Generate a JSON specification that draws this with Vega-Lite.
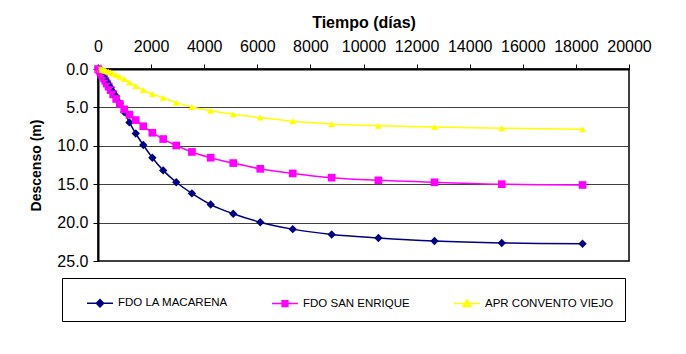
{
  "$schema": "https://vega.github.io/schema/vega-lite/v6.json",
  "autosize": {"type": "none"},
  "padding": {"left": 98, "top": 69, "right": 57, "bottom": 93},
  "width": 531,
  "height": 192,
  "background": "white",
  "datasets": {
    "pozos": [
      {"serie": "FDO LA MACARENA", "t": 1, "d": 0},
      {"serie": "FDO LA MACARENA", "t": 50, "d": 0.18},
      {"serie": "FDO LA MACARENA", "t": 92, "d": 0.35},
      {"serie": "FDO LA MACARENA", "t": 133, "d": 0.55},
      {"serie": "FDO LA MACARENA", "t": 159, "d": 0.7},
      {"serie": "FDO LA MACARENA", "t": 191, "d": 0.85},
      {"serie": "FDO LA MACARENA", "t": 230, "d": 1.05},
      {"serie": "FDO LA MACARENA", "t": 275, "d": 1.3},
      {"serie": "FDO LA MACARENA", "t": 331, "d": 1.6},
      {"serie": "FDO LA MACARENA", "t": 397, "d": 1.95},
      {"serie": "FDO LA MACARENA", "t": 476, "d": 2.4},
      {"serie": "FDO LA MACARENA", "t": 571, "d": 2.95},
      {"serie": "FDO LA MACARENA", "t": 685, "d": 3.55},
      {"serie": "FDO LA MACARENA", "t": 822, "d": 4.45},
      {"serie": "FDO LA MACARENA", "t": 987, "d": 5.6},
      {"serie": "FDO LA MACARENA", "t": 1184, "d": 6.95},
      {"serie": "FDO LA MACARENA", "t": 1421, "d": 8.4},
      {"serie": "FDO LA MACARENA", "t": 1706, "d": 9.9},
      {"serie": "FDO LA MACARENA", "t": 2047, "d": 11.55},
      {"serie": "FDO LA MACARENA", "t": 2456, "d": 13.2},
      {"serie": "FDO LA MACARENA", "t": 2948, "d": 14.75},
      {"serie": "FDO LA MACARENA", "t": 3537, "d": 16.2},
      {"serie": "FDO LA MACARENA", "t": 4244, "d": 17.65},
      {"serie": "FDO LA MACARENA", "t": 5093, "d": 18.85},
      {"serie": "FDO LA MACARENA", "t": 6112, "d": 19.95},
      {"serie": "FDO LA MACARENA", "t": 7334, "d": 20.85},
      {"serie": "FDO LA MACARENA", "t": 8801, "d": 21.55},
      {"serie": "FDO LA MACARENA", "t": 10561, "d": 22.0},
      {"serie": "FDO LA MACARENA", "t": 12674, "d": 22.4},
      {"serie": "FDO LA MACARENA", "t": 15208, "d": 22.65},
      {"serie": "FDO LA MACARENA", "t": 18250, "d": 22.75},
      {"serie": "FDO SAN ENRIQUE", "t": 1, "d": 0},
      {"serie": "FDO SAN ENRIQUE", "t": 50, "d": 0.2},
      {"serie": "FDO SAN ENRIQUE", "t": 92, "d": 0.4},
      {"serie": "FDO SAN ENRIQUE", "t": 133, "d": 0.65},
      {"serie": "FDO SAN ENRIQUE", "t": 159, "d": 0.8},
      {"serie": "FDO SAN ENRIQUE", "t": 191, "d": 1.0},
      {"serie": "FDO SAN ENRIQUE", "t": 230, "d": 1.25},
      {"serie": "FDO SAN ENRIQUE", "t": 275, "d": 1.55},
      {"serie": "FDO SAN ENRIQUE", "t": 331, "d": 1.9},
      {"serie": "FDO SAN ENRIQUE", "t": 397, "d": 2.3},
      {"serie": "FDO SAN ENRIQUE", "t": 476, "d": 2.75},
      {"serie": "FDO SAN ENRIQUE", "t": 571, "d": 3.3},
      {"serie": "FDO SAN ENRIQUE", "t": 685, "d": 3.9},
      {"serie": "FDO SAN ENRIQUE", "t": 822, "d": 4.55},
      {"serie": "FDO SAN ENRIQUE", "t": 987, "d": 5.25},
      {"serie": "FDO SAN ENRIQUE", "t": 1184, "d": 5.95},
      {"serie": "FDO SAN ENRIQUE", "t": 1421, "d": 6.65},
      {"serie": "FDO SAN ENRIQUE", "t": 1706, "d": 7.45},
      {"serie": "FDO SAN ENRIQUE", "t": 2047, "d": 8.3},
      {"serie": "FDO SAN ENRIQUE", "t": 2456, "d": 9.12},
      {"serie": "FDO SAN ENRIQUE", "t": 2948, "d": 9.96},
      {"serie": "FDO SAN ENRIQUE", "t": 3537, "d": 10.8},
      {"serie": "FDO SAN ENRIQUE", "t": 4244, "d": 11.55},
      {"serie": "FDO SAN ENRIQUE", "t": 5093, "d": 12.25},
      {"serie": "FDO SAN ENRIQUE", "t": 6112, "d": 13.0},
      {"serie": "FDO SAN ENRIQUE", "t": 7334, "d": 13.6},
      {"serie": "FDO SAN ENRIQUE", "t": 8801, "d": 14.15},
      {"serie": "FDO SAN ENRIQUE", "t": 10561, "d": 14.5},
      {"serie": "FDO SAN ENRIQUE", "t": 12674, "d": 14.75},
      {"serie": "FDO SAN ENRIQUE", "t": 15208, "d": 15.0},
      {"serie": "FDO SAN ENRIQUE", "t": 18250, "d": 15.1},
      {"serie": "APR CONVENTO VIEJO", "t": 1, "d": 0},
      {"serie": "APR CONVENTO VIEJO", "t": 50, "d": 0.02},
      {"serie": "APR CONVENTO VIEJO", "t": 92, "d": 0.04},
      {"serie": "APR CONVENTO VIEJO", "t": 133, "d": 0.07},
      {"serie": "APR CONVENTO VIEJO", "t": 159, "d": 0.09},
      {"serie": "APR CONVENTO VIEJO", "t": 191, "d": 0.12},
      {"serie": "APR CONVENTO VIEJO", "t": 230, "d": 0.16},
      {"serie": "APR CONVENTO VIEJO", "t": 275, "d": 0.21},
      {"serie": "APR CONVENTO VIEJO", "t": 331, "d": 0.28},
      {"serie": "APR CONVENTO VIEJO", "t": 397, "d": 0.36},
      {"serie": "APR CONVENTO VIEJO", "t": 476, "d": 0.47},
      {"serie": "APR CONVENTO VIEJO", "t": 571, "d": 0.6},
      {"serie": "APR CONVENTO VIEJO", "t": 685, "d": 0.78},
      {"serie": "APR CONVENTO VIEJO", "t": 822, "d": 1.0},
      {"serie": "APR CONVENTO VIEJO", "t": 987, "d": 1.3},
      {"serie": "APR CONVENTO VIEJO", "t": 1184, "d": 1.75},
      {"serie": "APR CONVENTO VIEJO", "t": 1421, "d": 2.2},
      {"serie": "APR CONVENTO VIEJO", "t": 1706, "d": 2.73},
      {"serie": "APR CONVENTO VIEJO", "t": 2047, "d": 3.25},
      {"serie": "APR CONVENTO VIEJO", "t": 2456, "d": 3.75},
      {"serie": "APR CONVENTO VIEJO", "t": 2948, "d": 4.38},
      {"serie": "APR CONVENTO VIEJO", "t": 3537, "d": 4.95},
      {"serie": "APR CONVENTO VIEJO", "t": 4244, "d": 5.43},
      {"serie": "APR CONVENTO VIEJO", "t": 5093, "d": 5.9},
      {"serie": "APR CONVENTO VIEJO", "t": 6112, "d": 6.33},
      {"serie": "APR CONVENTO VIEJO", "t": 7334, "d": 6.8},
      {"serie": "APR CONVENTO VIEJO", "t": 8801, "d": 7.15},
      {"serie": "APR CONVENTO VIEJO", "t": 10561, "d": 7.38},
      {"serie": "APR CONVENTO VIEJO", "t": 12674, "d": 7.55},
      {"serie": "APR CONVENTO VIEJO", "t": 15208, "d": 7.72},
      {"serie": "APR CONVENTO VIEJO", "t": 18250, "d": 7.85}
    ]
  },
  "data": {"name": "pozos"},
  "encoding": {
    "x": {
      "field": "t", "type": "quantitative",
      "scale": {"domain": [0, 20000], "nice": false, "zero": false},
      "axis": {
        "orient": "top", "title": "Tiempo (días)",
        "values": [0, 2000, 4000, 6000, 8000, 10000, 12000, 14000, 16000, 18000, 20000],
        "format": "d", "grid": false,
        "domainColor": "black", "domainWidth": 2,
        "tickColor": "black", "tickSize": 5, "tickWidth": 1,
        "labelFont": "Liberation Sans", "labelFontSize": 16, "labelColor": "black", "labelPadding": 10,
        "labelFlush": false, "labelOverlap": false,
        "titleFont": "Liberation Sans", "titleFontSize": 16, "titleFontWeight": "bold", "titleColor": "black", "titlePadding": 8
      }
    },
    "y": {
      "field": "d", "type": "quantitative",
      "scale": {"domain": [0, 25], "reverse": true, "nice": false},
      "axis": {
        "title": "Descenso (m)",
        "values": [0, 5, 10, 15, 20, 25], "format": ".1f",
        "grid": true, "gridColor": "#404040", "gridWidth": 1,
        "domainColor": "black", "domainWidth": 2,
        "tickColor": "black", "tickSize": 5, "tickWidth": 1,
        "labelFont": "Liberation Sans", "labelFontSize": 16, "labelColor": "black", "labelPadding": 5,
        "labelFlush": false, "labelOverlap": false,
        "titleFont": "Liberation Sans", "titleFontSize": 14, "titleFontWeight": "bold", "titleColor": "black", "titlePadding": 13
      }
    },
    "order": {"field": "t", "type": "quantitative"}
  },
  "layer": [
    {
      "mark": {"type": "line", "strokeWidth": 1.5, "interpolate": "monotone"},
      "encoding": {
        "color": {
          "field": "serie", "type": "nominal",
          "scale": {
            "domain": ["FDO LA MACARENA", "FDO SAN ENRIQUE", "APR CONVENTO VIEJO"],
            "range": ["#000080", "#FF00FF", "#FFFF00"]
          },
          "legend": null
        }
      }
    },
    {
      "mark": {"type": "point", "filled": true, "opacity": 1},
      "encoding": {
        "color": {
          "field": "serie", "type": "nominal",
          "scale": {
            "domain": ["FDO LA MACARENA", "FDO SAN ENRIQUE", "APR CONVENTO VIEJO"],
            "range": ["#000080", "#FF00FF", "#FFFF00"]
          },
          "legend": null
        },
        "shape": {
          "field": "serie", "type": "nominal",
          "scale": {
            "domain": ["FDO LA MACARENA", "FDO SAN ENRIQUE", "APR CONVENTO VIEJO"],
            "range": ["diamond", "square", "triangle-up"]
          },
          "legend": null
        },
        "size": {
          "field": "serie", "type": "ordinal",
          "scale": {
            "domain": ["FDO LA MACARENA", "FDO SAN ENRIQUE", "APR CONVENTO VIEJO"],
            "range": [70, 48, 60]
          },
          "legend": null
        }
      }
    },
    {
      "data": {"values": []},
      "mark": {"type": "point", "filled": false, "strokeWidth": 1.5, "opacity": 1},
      "encoding": {
        "color": {
          "field": "serie", "type": "nominal",
          "scale": {
            "domain": ["FDO LA MACARENA", "FDO SAN ENRIQUE", "APR CONVENTO VIEJO"],
            "range": ["#000080", "#FF00FF", "#FFFF00"]
          },
          "legend": {
            "orient": "none", "legendX": -36, "legendY": 209,
            "direction": "horizontal", "title": null,
            "strokeColor": "black", "fillColor": "white",
            "padding": 11, "columnPadding": 30,
            "symbolOffset": 13, "labelOffset": 4,
            "labelFont": "Liberation Sans", "labelFontSize": 11.5, "labelColor": "black",
            "symbolSize": 676, "symbolStrokeWidth": 1.5, "symbolOpacity": 1
          }
        },
        "shape": {
          "field": "serie", "type": "nominal",
          "scale": {
            "domain": ["FDO LA MACARENA", "FDO SAN ENRIQUE", "APR CONVENTO VIEJO"],
            "range": [
              "M-1,0L1,0M0,-0.28L0.28,0L0,0.28L-0.28,0ZM0,-0.16L0.16,0L0,0.16L-0.16,0ZM0,-0.05L0.05,0L0,0.05L-0.05,0Z",
              "M-1,0L1,0M-0.22,-0.22L0.22,-0.22L0.22,0.22L-0.22,0.22ZM-0.11,-0.11L0.11,-0.11L0.11,0.11L-0.11,0.11ZM-0.02,-0.02L0.02,-0.02L0.02,0.02L-0.02,0.02Z",
              "M-1,0L1,0M0,-0.3L0.3,0.22L-0.3,0.22ZM0,-0.12L0.15,0.15L-0.15,0.15Z"
            ]
          },
          "legend": {
            "orient": "none", "legendX": -36, "legendY": 209,
            "direction": "horizontal", "title": null,
            "strokeColor": "black", "fillColor": "white",
            "padding": 11, "columnPadding": 30,
            "symbolOffset": 13, "labelOffset": 4,
            "labelFont": "Liberation Sans", "labelFontSize": 11.5, "labelColor": "black",
            "symbolSize": 676, "symbolStrokeWidth": 1.5, "symbolOpacity": 1
          }
        }
      }
    }
  ],
  "resolve": {"scale": {"shape": "independent", "color": "independent"}},
  "config": {
    "font": "Liberation Sans",
    "view": {"stroke": "black", "strokeWidth": 1.5}
  }
}
